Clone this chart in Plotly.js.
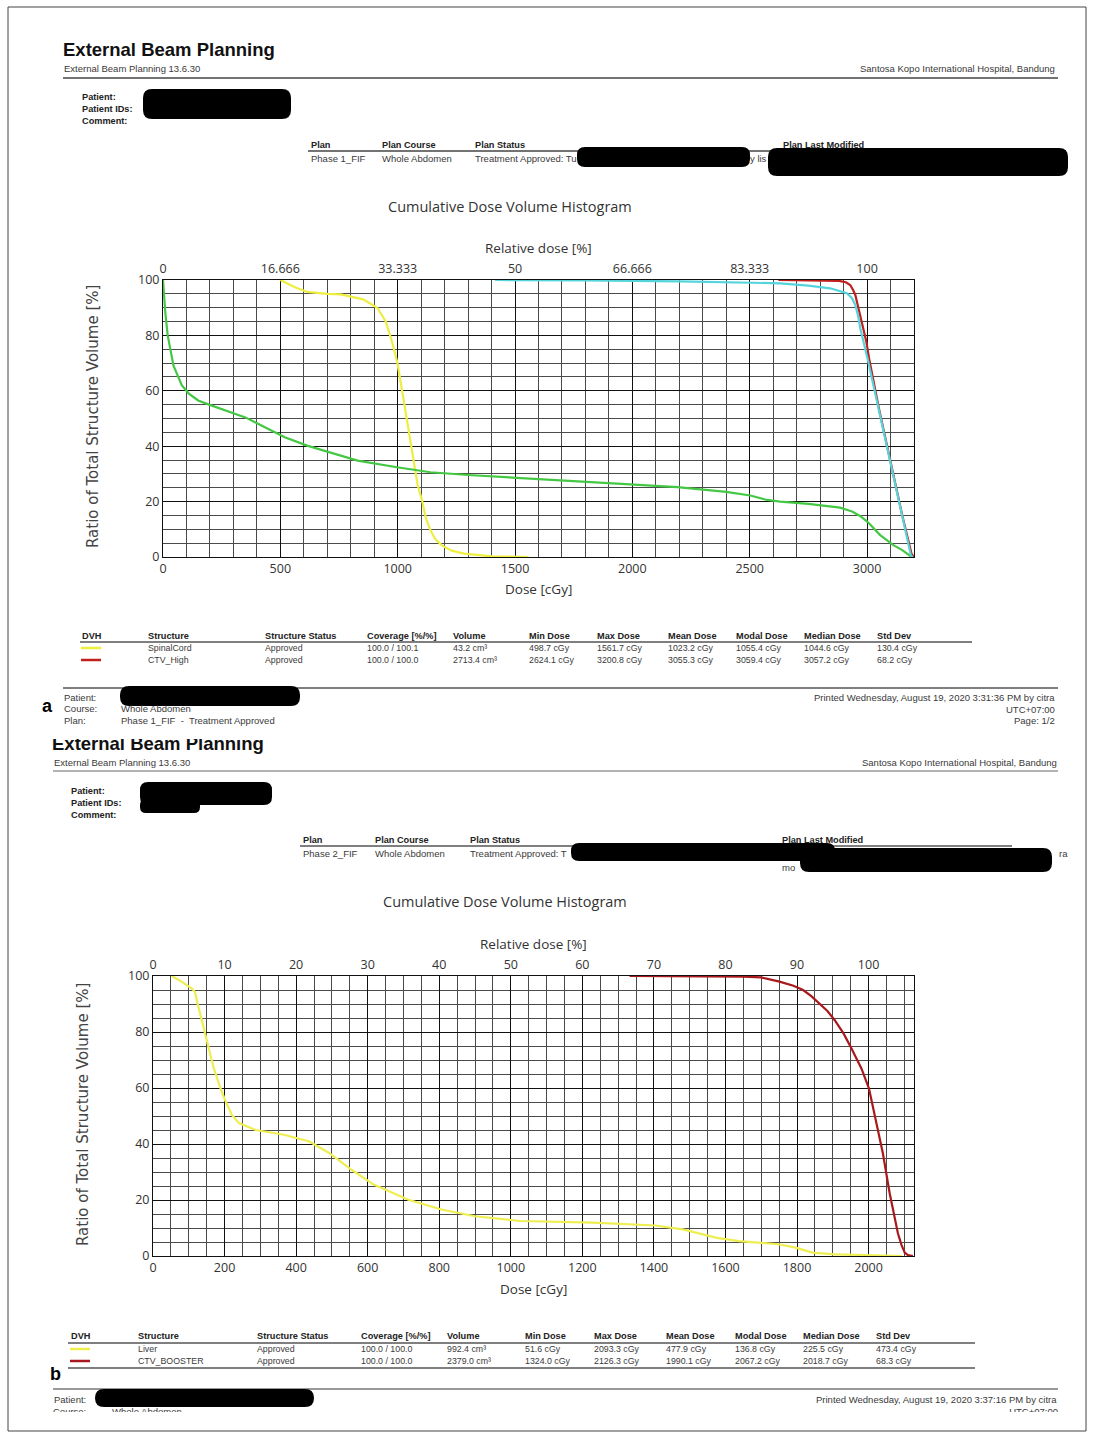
<!DOCTYPE html>
<html><head><meta charset="utf-8">
<script src="https://cdn.plot.ly/plotly-3.0.1.min.js"></script>
<style>html,body{margin:0;padding:0;background:#fff;}#chart{width:1094px;height:1435px;}</style>
</head><body><div id="chart"></div>
<script>
// ---------------- DATA: page a (Phase 1_FIF) ----------------
const spinalCordDose = [500,560,614,700,758,853,913,949,975,997,1015,1033,1050,1068,1085,1104,1120,1140,1160,1188,1230,1283,1403,1558];
const spinalCordVol  = [100,97.5,95.7,95,94.8,93,90,85,78,70.8,62,52.8,43,33.6,26,20.4,14,9.6,6.5,4.2,2.3,1.2,0.2,0];
const greenDose = [0,5,10,20,30,45,60,80,110,150,196,260,351,430,519,614,720,829,997,1140,1300,1475,1700,1953,2192,2400,2502,2574,2630,2750,2885,2936,2970,3002,3056,3112,3150,3190];
const greenVol  = [100,93,88,80,75,69,66,62,59,56.5,55,53,50.4,47,43.2,40.2,37.5,34.8,32.4,30.6,29.6,28.8,27.6,26.4,25.2,23.5,22.2,20.6,20,19.2,17.8,16.4,14.8,12.7,7.9,4.3,2.5,0];
const cyanDose = [1415,1800,2200,2431,2630,2750,2843,2914,2935,2950,2962,2971,2987,3002,3050,3100,3150,3187,3195];
const cyanVol  = [100,99.9,99.5,99,98.8,98,97,95.2,93.5,91,87,82.6,77,71.7,53.2,34,14.7,0.5,0];
const ctvHighDose = [2622,2800,2880,2910,2928,2940,2950,2960,2971,2985,2997,3010,3050,3100,3150,3190,3200];
const ctvHighVol  = [100,99.9,99.7,99.2,98.2,96.5,94.6,91,87.4,82,77.7,71,53.8,34.5,15,1,0];
const relTickValsA = [0,16.666,33.333,50,66.666,83.333,100];
const relTickTextA = ['0','16.666','33.333','50','66.666','83.333','100'];

// ---------------- DATA: page b (Phase 2_FIF) ----------------
const liverDose = [52,80,108,117,125,136,145,155,170,187,201,220,240,287,366,437,492,555,617,712,806,900,1026,1230,1403,1481,1576,1638,1749,1796,1843,1906,2000,2094];
const liverVol  = [100,98,95.6,94.4,90,84.3,79,74.8,67,60.5,55.8,50.5,47.5,45,43.3,40.9,36.8,30.8,25.5,20.2,16.6,14.2,12.5,11.9,10.9,9.5,6.5,5.3,4.2,3,1.2,0.6,0.2,0];
const ctvBoosterDose = [1332,1500,1650,1700,1751,1790,1817,1840,1863,1885,1905,1930,1952,1980,2001,2021,2040,2059,2070,2082,2092,2101,2110,2124];
const ctvBoosterVol  = [100,100,99.8,99.5,98,96.5,95,92.8,90.2,87.5,84.3,79.5,74.2,67,59.9,48.6,36.7,22.4,15,8.1,4,1.2,0.3,0];
const relTickValsB = [0,10,20,30,40,50,60,70,80,90,100];
const relTickTextB = ['0','10','20','30','40','50','60','70','80','90','100'];

// ---------------- TABLE DATA ----------------
const tableHeaders = ['DVH','Structure','Structure Status','Coverage [%/%]','Volume','Min Dose','Max Dose','Mean Dose','Modal Dose','Median Dose','Std Dev'];
const structA = ['SpinalCord','CTV_High'];
const statusA = ['Approved','Approved'];
const coverageA = ['100.0 / 100.1','100.0 / 100.0'];
const volumeA = ['43.2 cm³','2713.4 cm³'];
const minDoseA = ['498.7 cGy','2624.1 cGy'];
const maxDoseA = ['1561.7 cGy','3200.8 cGy'];
const meanDoseA = ['1023.2 cGy','3055.3 cGy'];
const modalDoseA = ['1055.4 cGy','3059.4 cGy'];
const medianDoseA = ['1044.6 cGy','3057.2 cGy'];
const stdDevA = ['130.4 cGy','68.2 cGy'];
const structB = ['Liver','CTV_BOOSTER'];
const statusB = ['Approved','Approved'];
const coverageB = ['100.0 / 100.0','100.0 / 100.0'];
const volumeB = ['992.4 cm³','2379.0 cm³'];
const minDoseB = ['51.6 cGy','1324.0 cGy'];
const maxDoseB = ['2093.3 cGy','2126.3 cGy'];
const meanDoseB = ['477.9 cGy','1990.1 cGy'];
const modalDoseB = ['136.8 cGy','2067.2 cGy'];
const medianDoseB = ['225.5 cGy','2018.7 cGy'];
const stdDevB = ['473.4 cGy','68.3 cGy'];

// ---------------- LAYOUT HELPERS ----------------
const W = 1094, H = 1435;
const RF = 'Liberation Sans, Arial, sans-serif';
const CF = 'Open Sans, sans-serif';
const annotations = [];
const shapes = [];
function T(x, y, text, o) {
  o = o || {};
  annotations.push({
    xref: 'x5', yref: 'y5', x: x, y: y, text: text, showarrow: false,
    xanchor: o.anchor || 'left', yanchor: 'middle', textangle: o.angle || 0,
    borderpad: 0,
    font: {family: o.family || RF, size: o.size || 9.5, color: o.color || '#3a3a3a'}
  });
}
function L(x0, y0, x1, y1, color, w) {
  shapes.push({type: 'line', xref: 'x5', yref: 'y5', x0: x0, y0: y0, x1: x1, y1: y1,
    line: {color: color || '#555', width: w || 1.5}, layer: 'above'});
}
function box(x0, y0, x1, y1, r, fill) {
  r = r || 8;
  const p = `M${x0 + r},${y0} L${x1 - r},${y0} Q${x1},${y0} ${x1},${y0 + r} L${x1},${y1 - r} Q${x1},${y1} ${x1 - r},${y1} L${x0 + r},${y1} Q${x0},${y1} ${x0},${y1 - r} L${x0},${y0 + r} Q${x0},${y0} ${x0 + r},${y0} Z`;
  shapes.push({type: 'path', xref: 'x5', yref: 'y5', path: p, fillcolor: fill || '#000', line: {width: 0}, layer: 'above'});
}
function rect(x0, y0, x1, y1, fill, lineColor) {
  shapes.push({type: 'rect', xref: 'x5', yref: 'y5', x0: x0, y0: y0, x1: x1, y1: y1,
    fillcolor: fill || 'rgba(0,0,0,0)', line: {width: lineColor ? 1 : 0, color: lineColor || '#fff'}, layer: 'above'});
}
const HB = 9.2;   // bold header size
const TR = 8.8;   // table row size

// outer frame
rect(8, 7, 1086, 1431, 'rgba(0,0,0,0)', '#444');

// ---------- page a header ----------
T(62, 49, '<b>External Beam Planning</b>', {size: 18.5, color: '#111'});
T(63, 68, 'External Beam Planning 13.6.30');
T(1056, 68, 'Santosa Kopo International Hospital, Bandung', {anchor: 'right'});
L(63, 78, 1058, 78, '#444', 1.5);
T(81, 97, '<b>Patient:</b>', {color: '#222', size: HB});
T(81, 109, '<b>Patient IDs:</b>', {color: '#222', size: HB});
T(81, 121, '<b>Comment:</b>', {color: '#222', size: HB});
box(143, 89, 291, 119, 9);
T(310, 145, '<b>Plan</b>', {color: '#222', size: HB});
T(381, 145, '<b>Plan Course</b>', {color: '#222', size: HB});
T(474, 145, '<b>Plan Status</b>', {color: '#222', size: HB});
T(782, 145, '<b>Plan Last Modified</b>', {color: '#222', size: HB});
L(308, 151, 1066, 151, '#444', 1.5);
T(310, 158, 'Phase 1_FIF');
T(381, 158, 'Whole Abdomen');
T(474, 158, 'Treatment Approved: Tu');
box(577, 147, 750, 167, 8);
T(749, 158, 'y lis');
box(768, 148, 1068, 176, 9);
T(510, 206, 'Cumulative Dose Volume Histogram', {anchor: 'center', family: CF, size: 14.5, color: '#333'});

// chart a titles
T(538, 248, 'Relative dose [%]', {anchor: 'center', family: CF, size: 13.5, color: '#333'});
T(538, 589, 'Dose [cGy]', {anchor: 'center', family: CF, size: 13.5, color: '#333'});
T(93, 417, 'Ratio of Total Structure Volume [%]', {anchor: 'center', family: 'DejaVu Sans, sans-serif', size: 15, color: '#444', angle: -90});

// table a
const colXA = [81,147,264,366,452,528,596,667,735,803,876];
tableHeaders.forEach((h, i) => T(colXA[i], 636, '<b>' + h + '</b>', {color: '#222', size: HB}));
L(80, 642, 972, 642, '#555', 1.5);
const colsA = [structA, statusA, coverageA, volumeA, minDoseA, maxDoseA, meanDoseA, modalDoseA, medianDoseA, stdDevA];
const swatchA = ['#eeee40', '#c0201c'];
[648, 660].forEach((y, r) => {
  L(81, y, 101, y, swatchA[r], 2.5);
  colsA.forEach((c, i) => T(colXA[i + 1], y, c[r], {size: TR}));
});

// footer a
L(63, 688, 1058, 688, '#555', 1.5);
T(63, 697, 'Patient:');
box(120, 686, 300, 706, 9);
T(63, 708, 'Course:');
T(120, 708, 'Whole Abdomen');
T(63, 720, 'Plan:');
T(120, 720, 'Phase 1_FIF  -  Treatment Approved');
T(1056, 697, 'Printed Wednesday, August 19, 2020 3:31:36 PM by citra', {anchor: 'right'});
T(1056, 709, 'UTC+07:00', {anchor: 'right'});
T(1056, 720, 'Page: 1/2', {anchor: 'right'});
T(41, 706, '<b>a</b>', {size: 18, color: '#000', family: 'Liberation Sans, Arial'});

// ---------- page b header ----------
rect(45, 727, 320, 739, '#fff');  // scan cut over the page-b title
T(53, 762, 'External Beam Planning 13.6.30');
T(1058, 762, 'Santosa Kopo International Hospital, Bandung', {anchor: 'right'});
L(53, 771, 1058, 771, '#999', 1.5);
T(70, 791, '<b>Patient:</b>', {color: '#222', size: HB});
T(70, 803, '<b>Patient IDs:</b>', {color: '#222', size: HB});
T(70, 815, '<b>Comment:</b>', {color: '#222', size: HB});
box(140, 782, 272, 805, 8);
box(140, 799, 200, 813, 6);
T(302, 840, '<b>Plan</b>', {color: '#222', size: HB});
T(374, 840, '<b>Plan Course</b>', {color: '#222', size: HB});
T(469, 840, '<b>Plan Status</b>', {color: '#222', size: HB});
T(781, 840, '<b>Plan Last Modified</b>', {color: '#222', size: HB});
L(300, 846, 1012, 846, '#555', 1.5);
T(302, 853, 'Phase 2_FIF');
T(374, 853, 'Whole Abdomen');
T(469, 853, 'Treatment Approved: T');
box(571, 843, 835, 861, 8);
box(800, 848, 1052, 872, 9);
T(1058, 853, 'ra');
T(781, 867, 'mo');
T(505, 901, 'Cumulative Dose Volume Histogram', {anchor: 'center', family: CF, size: 14.5, color: '#333'});

// chart b titles
T(533, 944, 'Relative dose [%]', {anchor: 'center', family: CF, size: 13.5, color: '#333'});
T(533, 1289, 'Dose [cGy]', {anchor: 'center', family: CF, size: 13.5, color: '#333'});
T(83, 1115, 'Ratio of Total Structure Volume [%]', {anchor: 'center', family: 'DejaVu Sans, sans-serif', size: 15, color: '#444', angle: -90});

// table b
const colXB = [70,137,256,360,446,524,593,665,734,802,875];
tableHeaders.forEach((h, i) => T(colXB[i], 1336, '<b>' + h + '</b>', {color: '#222', size: HB}));
L(68, 1343, 975, 1343, '#555', 1.5);
const colsB = [structB, statusB, coverageB, volumeB, minDoseB, maxDoseB, meanDoseB, modalDoseB, medianDoseB, stdDevB];
const swatchB = ['#eeee50', '#a8181c'];
[1349, 1361].forEach((y, r) => {
  L(70, y, 90, y, swatchB[r], 2.5);
  colsB.forEach((c, i) => T(colXB[i + 1], y, c[r], {size: TR}));
});
L(68, 1368, 975, 1368, '#555', 1.5);
T(49, 1374, '<b>b</b>', {size: 18, color: '#000', family: 'Liberation Sans, Arial'});

// footer b
L(53, 1389, 1058, 1389, '#777', 1.5);
T(53, 1399, 'Patient:');
box(95, 1389, 314, 1407, 9);
T(1058, 1399, 'Printed Wednesday, August 19, 2020 3:37:16 PM by citra', {anchor: 'right'});
rect(40, 1412, 1080, 1430, '#fff');  // scan cut at the bottom

// ---------------- TRACES ----------------
function curve(x, y, color, name, xa, ya) {
  return {x: x, y: y, type: 'scatter', mode: 'lines', name: name, xaxis: xa, yaxis: ya,
    line: {color: color, width: 2.2}, hoverinfo: 'skip', showlegend: false};
}
function axisHolder(vals, xa, ya) {  // invisible, only makes the top relative-dose axis render
  return {x: vals, y: vals.map(() => 0), xaxis: xa, yaxis: ya, type: 'scatter', mode: 'markers',
    marker: {opacity: 0, size: 1}, hoverinfo: 'skip', showlegend: false};
}
const traces = [
  axisHolder(relTickValsA, 'x2', 'y'),
  axisHolder(relTickValsB, 'x4', 'y2'),
  curve(spinalCordDose, spinalCordVol, '#eeee40', 'SpinalCord', 'x', 'y'),
  curve(greenDose, greenVol, '#44c844', 'Structure (green)', 'x', 'y'),
  curve(ctvHighDose, ctvHighVol, '#c0201c', 'CTV_High', 'x', 'y'),
  curve(cyanDose, cyanVol, '#55d4dc', 'Structure (cyan)', 'x', 'y'),
  curve(liverDose, liverVol, '#eeee50', 'Liver', 'x3', 'y2'),
  curve(ctvBoosterDose, ctvBoosterVol, '#a8181c', 'CTV_BOOSTER', 'x3', 'y2'),
  // text cut by the scan edges (drawn as text marks so the white cut can cover them)
  {type: 'scatter', mode: 'text', xaxis: 'x5', yaxis: 'y5', x: [52], y: [745],
   text: ['<b>External Beam Planning</b>'], textposition: 'middle right',
   textfont: {family: RF, size: 18.5, color: '#111'}, hoverinfo: 'skip', showlegend: false},
  {type: 'scatter', mode: 'text', xaxis: 'x5', yaxis: 'y5', x: [53, 112], y: [1413, 1413],
   text: ['Course:', 'Whole Abdomen'], textposition: 'middle right',
   textfont: {family: RF, size: 9.5, color: '#3a3a3a'}, hoverinfo: 'skip', showlegend: false},
  {type: 'scatter', mode: 'text', xaxis: 'x5', yaxis: 'y5', x: [1058], y: [1413],
   text: ['UTC+07:00'], textposition: 'middle left',
   textfont: {family: RF, size: 9.5, color: '#3a3a3a'}, hoverinfo: 'skip', showlegend: false}
];

const tickFont = {family: CF, size: 12.5, color: '#333'};
function gridAxis(extra) {
  return Object.assign({
    showline: true, linecolor: '#111', linewidth: 1, mirror: true,
    showgrid: true, gridcolor: '#111', gridwidth: 1, zeroline: false,
    ticks: '', tickfont: tickFont, fixedrange: true
  }, extra);
}
function topAxis(extra) {
  return Object.assign({
    side: 'top', showgrid: false, showline: false, zeroline: false,
    ticks: '', tickfont: tickFont, fixedrange: true, tickmode: 'array', ticklabelstandoff: 4
  }, extra);
}

const layout = {
  width: W, height: H, margin: {l: 0, r: 0, t: 0, b: 0},
  paper_bgcolor: '#fff', plot_bgcolor: 'rgba(0,0,0,0)', showlegend: false,
  xaxis: gridAxis({domain: [163 / W, 914 / W], range: [0, 3200], dtick: 500, anchor: 'y',
    minor: {dtick: 100, showgrid: true, gridcolor: '#4a4a4a', gridwidth: 1}}),
  xaxis2: topAxis({overlaying: 'x', anchor: 'y', range: [0, 3200 / 30],
    tickvals: relTickValsA, ticktext: relTickTextA}),
  yaxis: gridAxis({domain: [1 - 557 / H, 1 - 280 / H], range: [0, 100], dtick: 20, anchor: 'x',
    minor: {dtick: 5, showgrid: true, gridcolor: '#4a4a4a', gridwidth: 1}}),
  xaxis3: gridAxis({domain: [153 / W, 914 / W], range: [0, 2127], dtick: 200, anchor: 'y2',
    minor: {dtick: 50, showgrid: true, gridcolor: '#4a4a4a', gridwidth: 1}}),
  xaxis4: topAxis({overlaying: 'x3', anchor: 'y2', range: [0, 2127 / 20],
    tickvals: relTickValsB, ticktext: relTickTextB}),
  yaxis2: gridAxis({domain: [1 - 1256 / H, 1 - 976 / H], range: [0, 100], dtick: 20, anchor: 'x3',
    minor: {dtick: 5, showgrid: true, gridcolor: '#4a4a4a', gridwidth: 1}}),
  xaxis5: {domain: [0, 1], range: [0, W], visible: false, anchor: 'y5', fixedrange: true},
  yaxis5: {domain: [0, 1], range: [H, 0], visible: false, anchor: 'x5', fixedrange: true},
  annotations: annotations,
  shapes: shapes
};

Plotly.newPlot('chart', traces, layout, {staticPlot: true, displayModeBar: false});
</script>
</body></html>
